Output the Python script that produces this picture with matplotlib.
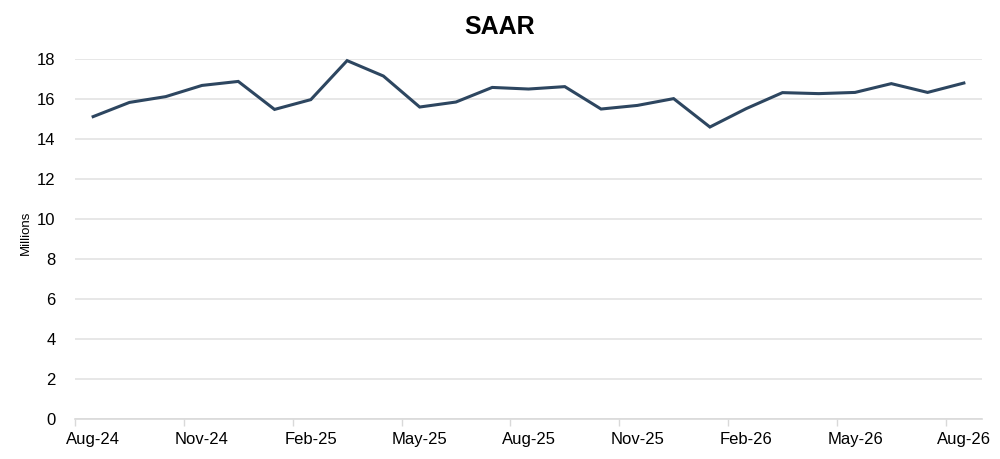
import matplotlib
matplotlib.use("Agg")
import matplotlib.pyplot as plt
from matplotlib.ticker import FixedLocator

plt.rcParams['font.family'] = ['Liberation Sans', 'DejaVu Sans']

months = ["Aug-24", "Sep-24", "Oct-24", "Nov-24", "Dec-24", "Jan-25", "Feb-25",
          "Mar-25", "Apr-25", "May-25", "Jun-25", "Jul-25", "Aug-25", "Sep-25",
          "Oct-25", "Nov-25", "Dec-25", "Jan-26", "Feb-26", "Mar-26", "Apr-26",
          "May-26", "Jun-26", "Jul-26", "Aug-26"]
saar = [15.12, 15.83, 16.12, 16.68, 16.88, 15.48, 15.97, 17.92, 17.15, 15.60,
        15.85, 16.58, 16.50, 16.62, 15.50, 15.68, 16.02, 14.60, 15.52, 16.32,
        16.27, 16.33, 16.77, 16.33, 16.80]
y_ticks = [0, 2, 4, 6, 8, 10, 12, 14, 16, 18]

fig = plt.figure(figsize=(10, 4.59), dpi=100)
ax = fig.add_axes([0.075, 0.0871, 0.907, 0.7843])

x = list(range(len(months)))
ax.plot(x, saar, color="#2D4660", linewidth=2.2, solid_joinstyle="miter",
        clip_on=False)

ax.set_xlim(-0.5, len(months) - 0.5)
ax.set_ylim(0, 18)
ax.set_yticks(y_ticks)
ax.yaxis.grid(True, color="#E3E3E3", linewidth=1.2)
ax.set_axisbelow(True)

label_idx = list(range(0, len(months), 3))
ax.set_xticks(label_idx)
ax.set_xticklabels([months[i] for i in label_idx], fontsize=12)
ax.xaxis.set_minor_locator(FixedLocator([i - 0.5 for i in label_idx]))
ax.tick_params(axis='x', which='major', length=0, pad=9)
ax.tick_params(axis='x', which='minor', length=5, color="#D9D9D9", width=1)
ax.tick_params(axis='y', length=0, labelsize=12, pad=14)

for s in ["top", "right", "left"]:
    ax.spines[s].set_visible(False)
ax.spines["bottom"].set_color("#D9D9D9")
ax.spines["bottom"].set_linewidth(1.2)

ax.set_ylabel("Millions", fontsize=9.5)
ax.yaxis.set_label_coords(-0.047, 0.517)
fig.suptitle("SAAR", fontsize=18, fontweight="bold", y=0.968)

fig.savefig("out.png", dpi=100, facecolor="white")
